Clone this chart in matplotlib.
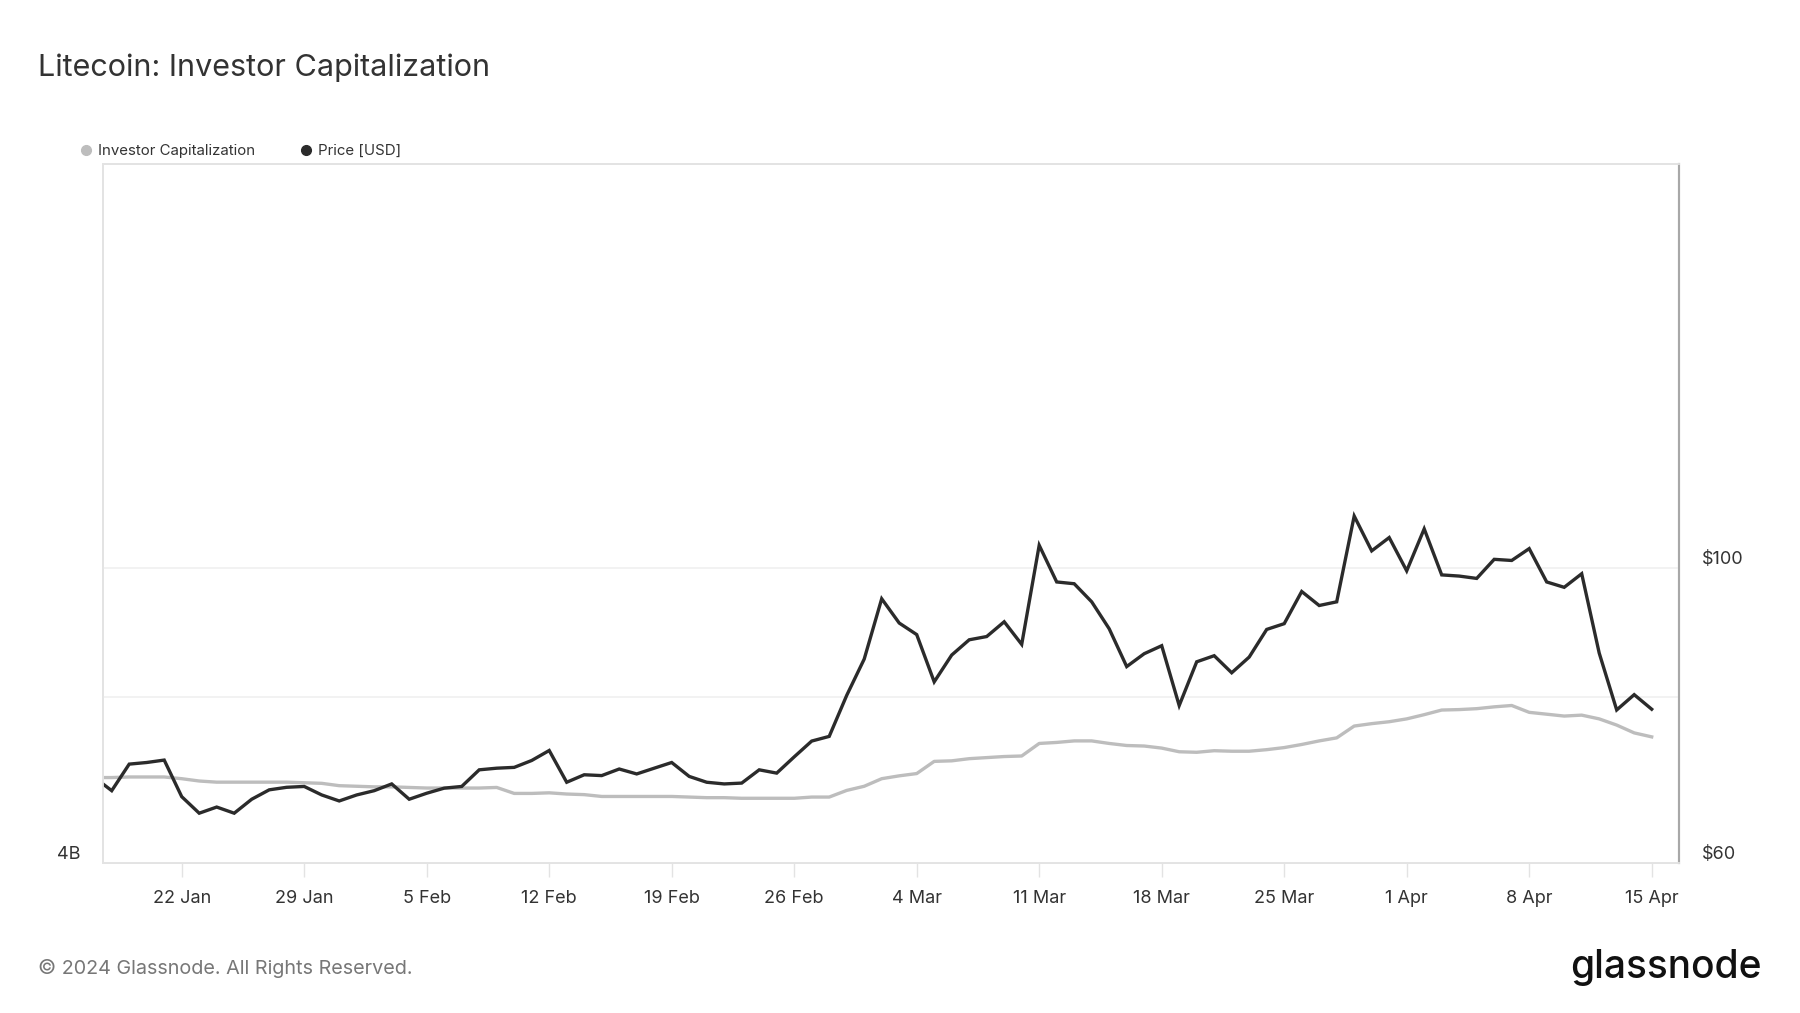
import numpy as np
import pandas as pd
import matplotlib
matplotlib.use("Agg")
import matplotlib.pyplot as plt
import matplotlib.dates as mdates
from matplotlib.ticker import NullLocator
from matplotlib.transforms import ScaledTranslation
from matplotlib.lines import Line2D

plt.rcParams['font.family'] = ['Inter', 'DejaVu Sans']

# daily values, 17 Jan 2024 .. 15 Apr 2024
dates = pd.date_range('2024-01-17', '2024-04-15', freq='D')

price_usd = [
    # Jan 17-31
    69.6, 68.0, 71.2, 71.4, 71.7, 67.3, 65.4, 66.1, 65.4, 67.0, 68.1, 68.4, 68.5, 67.5, 66.8,
    # Feb
    67.5, 68.0, 68.8, 67.0, 67.7, 68.3, 68.5, 70.5, 70.7, 70.8, 71.65, 72.9, 69.0, 69.9, 69.8,
    70.6, 70.0, 70.7, 71.4, 69.7, 69.0, 68.8, 68.9, 70.5, 70.1, 72.1, 74.1, 74.7, 80.2,
    # Mar
    85.4, 94.8, 90.9, 89.1, 82.1, 86.0, 88.3, 88.8, 91.1, 87.6, 104.0, 97.6, 97.3, 94.3, 90.0,
    84.3, 86.2, 87.4, 78.8, 85.0, 85.9, 83.4, 85.7, 89.9, 90.8, 96.0, 93.7, 94.3, 109.4, 103.0, 105.4,
    # Apr 1-15
    99.5, 107.0, 98.8, 98.6, 98.2, 101.5, 101.3, 103.4, 97.6, 96.7, 99.0, 86.3, 78.2, 80.3, 78.3,
]

investor_cap_b = [
    # Jan 17-31
    5.30, 5.30, 5.31, 5.31, 5.31, 5.28, 5.24, 5.22, 5.22, 5.22, 5.22, 5.22, 5.21, 5.20, 5.16,
    # Feb
    5.15, 5.14, 5.14, 5.13, 5.12, 5.12, 5.12, 5.12, 5.13, 5.03, 5.03, 5.04, 5.02, 5.01, 4.98,
    4.98, 4.98, 4.98, 4.98, 4.97, 4.96, 4.96, 4.95, 4.95, 4.95, 4.95, 4.97, 4.97, 5.08,
    # Mar
    5.15, 5.28, 5.33, 5.37, 5.59, 5.60, 5.64, 5.66, 5.68, 5.69, 5.93, 5.95, 5.98, 5.98, 5.93,
    5.89, 5.88, 5.84, 5.77, 5.76, 5.79, 5.78, 5.78, 5.81, 5.85, 5.91, 5.98, 6.04, 6.28, 6.33, 6.37,
    # Apr 1-15
    6.43, 6.52, 6.62, 6.63, 6.65, 6.69, 6.72, 6.57, 6.53, 6.49, 6.51, 6.43, 6.30, 6.14, 6.06,
]

price_ticks = [60, 80, 100]
price_labels = ['$60', '', '$100']
cap_ticks = [4]
cap_labels = ['4B']
x_ticks = pd.date_range('2024-01-22', '2024-04-15', freq='7D')

GRAY = '#bdbdbd'
DARK = '#2b2b2b'
TXT = '#333333'
FRAME = '#e3e3e3'

fig = plt.figure(figsize=(18, 10.13), dpi=100)
ax = fig.add_axes([0.0572, 0.1481, 0.8756, 0.6900])
ax2 = ax.twinx()

ax.plot(dates, investor_cap_b, color=GRAY, lw=2.4, solid_joinstyle='round')
ax2.plot(dates, price_usd, color=DARK, lw=2.4, solid_joinstyle='miter')

ax.set_yscale('log')
ax.set_ylim(4, 40)
ax.set_yticks(cap_ticks)
ax.set_yticklabels(cap_labels)
ax.yaxis.set_minor_locator(NullLocator())

ax2.set_yscale('log')
ax2.set_ylim(60, 60 * 10 ** (699 / 1330))
ax2.set_yticks(price_ticks)
ax2.set_yticklabels(price_labels)
ax2.yaxis.set_minor_locator(NullLocator())
ax2.grid(axis='y', color='#f0f0f0', lw=1.2)
ax2.set_axisbelow(True)

ax.set_xlim(pd.Timestamp('2024-01-17 12:00'), pd.Timestamp('2024-04-16 13:30'))
ax.set_xticks(x_ticks)
ax.xaxis.set_major_formatter(mdates.DateFormatter('%-d %b'))

ax.tick_params(axis='x', length=10, width=1, color=FRAME, pad=9.5, labelsize=13, labelcolor=TXT)
ax.tick_params(axis='y', length=0, pad=16.5, labelsize=13, labelcolor=TXT)
ax2.tick_params(axis='y', length=0, pad=16.5, labelsize=13, labelcolor=TXT)

off = ScaledTranslation(0, 10 / 100, fig.dpi_scale_trans)
for lab in ax.get_yticklabels() + ax2.get_yticklabels():
    lab.set_transform(lab.get_transform() + off)

for a in (ax, ax2):
    for s in ('left', 'top', 'bottom'):
        a.spines[s].set_color(FRAME)
        a.spines[s].set_linewidth(1.3)
    a.spines['right'].set_color('#a8a8a8')
    a.spines['right'].set_linewidth(1.5)

handles = [
    Line2D([], [], ls='none', marker='o', ms=7, color=GRAY, label='Investor Capitalization'),
    Line2D([], [], ls='none', marker='o', ms=7, color=DARK, label='Price [USD]'),
]
fig.legend(handles=handles, loc='center left', bbox_to_anchor=(78 / 1800, 1 - 151 / 1013),
           ncol=2, frameon=False, fontsize=10.8, handletextpad=0.3, columnspacing=2.9,
           handlelength=1.0, borderaxespad=0, borderpad=0, labelcolor=TXT)

fig.text(38 / 1800, 1 - 76 / 1013, 'Litecoin: Investor Capitalization', fontsize=22,
         color=TXT, va='baseline', ha='left')
fig.text(38 / 1800, 1 - 974 / 1013, '\u00a9 2024 Glassnode. All Rights Reserved.', fontsize=14.25,
         color='#777777', va='baseline', ha='left')
fig.text(1570 / 1800, 1 - 978 / 1013, 'glassnode', fontsize=28, fontweight='medium',
         color='#111111', va='baseline', ha='left')

fig.savefig('out.png', dpi=100, facecolor='white')
